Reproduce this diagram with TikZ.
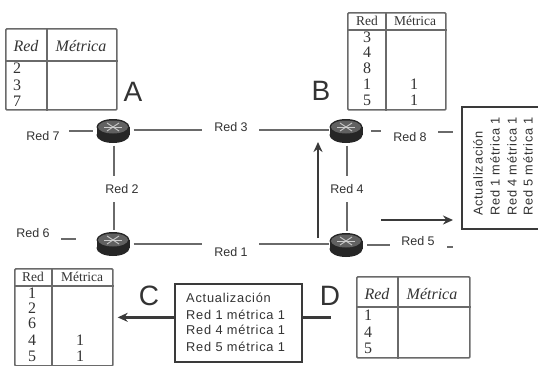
\documentclass[tikz,border=0pt]{standalone}
\usepackage{fontspec}
\setmainfont{Liberation Sans}
\newfontfamily\serifx{Liberation Serif}
\newfontfamily\sansspaced[LetterSpace=6]{Liberation Sans}
\usetikzlibrary{shapes.geometric,arrows.meta}
\definecolor{ln}{HTML}{6A6A6A}
\definecolor{dk}{HTML}{3A3A3A}
\definecolor{tx}{HTML}{333333}
\tikzset{
  x=1pt,y=-1pt,
  router/.style={ellipse,minimum width=33pt,minimum height=23pt,inner sep=0pt,fill=none,draw=none},
  link/.style={draw=ln,line width=2.3pt},
  arr/.style={draw=dk,line width=2.3pt,-{Stealth[length=10pt,width=9pt]}},
  lbl/.style={font=\fontsize{12.5}{14}\selectfont,text=tx,inner sep=0pt},
  big/.style={font=\fontsize{28}{30}\selectfont,text=tx,inner sep=0pt},
  tbl/.style={draw=ln,line width=1.7pt,rounded corners=1pt,inner sep=0pt},
  tline/.style={draw=ln,line width=1.7pt},
  cell/.style={font=\serifx\fontsize{16}{18}\selectfont,text=tx,inner sep=0pt},
  cellhd/.style={font=\serifx\fontsize{13.5}{15}\selectfont,text=tx,inner sep=0pt},
  hdi/.style={font=\serifx\itshape\fontsize{16}{18}\selectfont,text=tx,inner sep=0pt},
  upd/.style={draw=dk,line width=1.6pt,fill=white,inner sep=0pt},
  updtxt/.style={font=\sansspaced\fontsize{12.8}{14}\selectfont,text=tx,inner sep=0pt},
}
\newcommand{\routerart}[1]{%
  \fill[black!85] ([yshift=-4pt]#1.center) ellipse [x radius=16.5pt,y radius=8pt];
  \fill[black!85] ([xshift=-16.5pt,yshift=-4pt]#1.center) rectangle ([xshift=16.5pt,yshift=4pt]#1.center);
  \fill[black!85] ([yshift=4pt]#1.center) ellipse [x radius=16.5pt,y radius=8pt];
  \fill[black!62] ([yshift=4pt]#1.center) ellipse [x radius=15pt,y radius=6.5pt];
  \draw[white!80!black,line width=.9pt] ([xshift=-9pt,yshift=4pt]#1.center) -- ([xshift=9pt,yshift=4pt]#1.center);
  \draw[white!80!black,line width=.9pt] ([xshift=-6pt,yshift=8pt]#1.center) -- ([xshift=6pt,yshift=0pt]#1.center);
  \draw[white!80!black,line width=.9pt] ([xshift=-6pt,yshift=0pt]#1.center) -- ([xshift=6pt,yshift=8pt]#1.center);
}
\begin{document}
\begin{tikzpicture}
\useasboundingbox (0,0) rectangle (538,365);
\fill[white] (0,0) rectangle (538,365);
% routers
\node[router] (A) at (113,131) {};
\node[router] (B) at (346,131) {};
\node[router] (C) at (113,244) {};
\node[router] (D) at (346,245) {};
\routerart{A}\routerart{B}\routerart{C}\routerart{D}
% network labels
\node[lbl] (r3) at (231,127) {Red 3};
\node[lbl] (r1) at (231,252) {Red 1};
\node[lbl] (r7) at (43,136) {Red 7};
\node[lbl] (r2) at (122,189) {Red 2};
\node[lbl] (r6) at (33,233) {Red 6};
\node[lbl] (r4) at (347,189) {Red 4};
\node[lbl] (r8) at (410,137) {Red 8};
\node[lbl] (r5) at (418,241) {Red 5};
% free ends
\coordinate (a3) at (202,130); \coordinate (b3) at (259,130);
\coordinate (a1) at (202,244); \coordinate (b1) at (259,244);
\coordinate (a7) at (69,131);
\coordinate (a2) at (114,176); \coordinate (c2) at (114,202);
\coordinate (b4) at (347,176); \coordinate (d4) at (347,202);
\coordinate (c6a) at (61,239); \coordinate (c6b) at (76,239);
\coordinate (b8a) at (371,131); \coordinate (b8b) at (381,131);
\coordinate (b8c) at (438,132); \coordinate (b8d) at (453,132);
\coordinate (d5a) at (367,245); \coordinate (d5b) at (390,245);
\coordinate (d5c) at (447,247); \coordinate (d5d) at (453,247);
% links
\draw[link,shorten <=4pt] (A.east |- a3) -- (a3);
\draw[link] (b3) -- (B.west |- b3);
\draw[link,shorten <=4pt] (C.east |- a1) -- (a1);
\draw[link] (b1) -- (D.west |- b1);
\draw[link,shorten >=3pt] (a7) -- (A.west |- a7);
\draw[link,shorten <=3pt] (A.south -| a2) -- (a2);
\draw[link,shorten >=2pt] (c2) -- (C.north -| c2);
\draw[link,shorten <=3pt] (B.south -| b4) -- (b4);
\draw[link,shorten >=2pt] (d4) -- (D.north -| d4);
\draw[link] (c6a) -- (c6b);
\draw[link] (b8a) -- (b8b);
\draw[link] (b8c) -- (b8d);
\draw[link] (d5a) -- (d5b);
\draw[link,line width=2.6pt] (d5c) -- (d5d);
% letters
\node[big] (la) at (133,92) {A};
\node[big] (lb) at (321,91) {B};
\node[big] (lc) at (149,296) {C};
\node[big] (ld) at (330,296) {D};
% table A
\node[tbl,anchor=north west,minimum width=111pt,minimum height=81pt] (tA) at (5,28) {};
\coordinate (tA1) at (47,28);
\draw[tline] (tA.north -| tA1) -- (tA.south -| tA1);
\draw[tline] ([yshift=-33pt]tA.north west) -- ([yshift=-33pt]tA.north east);
\node[hdi] (tAh1) at (26,46) {Red};
\node[hdi] (tAh2) at (81,46) {Métrica};
\node[cell] (tAa) at (17,68) {2};
\node[cell] (tAb) at (17,85) {3};
\node[cell] (tAc) at (17,101) {7};
% table B
\node[tbl,anchor=north west,minimum width=98pt,minimum height=97pt] (tB) at (347,12) {};
\coordinate (tB1) at (386,12);
\draw[tline] (tB.north -| tB1) -- (tB.south -| tB1);
\draw[tline] ([yshift=-18pt]tB.north west) -- ([yshift=-18pt]tB.north east);
\node[cellhd] (tBh1) at (367,21) {Red};
\node[cellhd] (tBh2) at (415,21) {Métrica};
\node[cell] (tBa) at (367,37) {3};
\node[cell] (tBb) at (367,52) {4};
\node[cell] (tBc) at (367,68) {8};
\node[cell] (tBd) at (367,84) {1};
\node[cell] (tBe) at (367,100) {5};
\node[cell] (tBf) at (414,84) {1};
\node[cell] (tBg) at (414,100) {1};
% table C
\node[tbl,anchor=north west,minimum width=98pt,minimum height=97pt] (tC) at (14,268) {};
\coordinate (tC1) at (52,268);
\draw[tline] (tC.north -| tC1) -- (tC.south -| tC1);
\draw[tline] ([yshift=-18pt]tC.north west) -- ([yshift=-18pt]tC.north east);
\node[cellhd] (tCh1) at (33,277) {Red};
\node[cellhd] (tCh2) at (82,277) {Métrica};
\node[cell] (tCa) at (32,293) {1};
\node[cell] (tCb) at (32,308) {2};
\node[cell] (tCc) at (32,323) {6};
\node[cell] (tCd) at (32,340) {4};
\node[cell] (tCe) at (32,356) {5};
\node[cell] (tCf) at (80,340) {1};
\node[cell] (tCg) at (80,356) {1};
% table D
\node[tbl,anchor=north west,minimum width=113pt,minimum height=81pt] (tD) at (356,276) {};
\coordinate (tD1) at (398,276);
\draw[tline] (tD.north -| tD1) -- (tD.south -| tD1);
\draw[tline] ([yshift=-31pt]tD.north west) -- ([yshift=-31pt]tD.north east);
\node[hdi] (tDh1) at (377,294) {Red};
\node[hdi] (tDh2) at (432,294) {Métrica};
\node[cell] (tDa) at (368,315) {1};
\node[cell] (tDb) at (368,332) {4};
\node[cell] (tDc) at (368,348) {5};
% update box bottom
\node[upd,anchor=north west,minimum width=127pt,minimum height=78pt] (uC) at (174,283) {};
\node[updtxt,anchor=west] (uC1) at (186,298) {Actualización};
\node[updtxt,anchor=west] (uC2) at (186,315) {Red 1 métrica 1};
\node[updtxt,anchor=west] (uC3) at (186,330) {Red 4 métrica 1};
\node[updtxt,anchor=west] (uC4) at (186,347) {Red 5 métrica 1};
% update box right
\node[upd,anchor=north west,minimum width=78pt,minimum height=122pt] (uR) at (461,106) {};
\node[updtxt,rotate=90,anchor=west] (uR1) at (478,216) {Actualización};
\node[updtxt,rotate=90,anchor=west] (uR2) at (495,216) {Red 1 métrica 1};
\node[updtxt,rotate=90,anchor=west] (uR3) at (512,216) {Red 4 métrica 1};
\node[updtxt,rotate=90,anchor=west] (uR4) at (528,216) {Red 5 métrica 1};
% arrows
\coordinate (v1) at (318,238); \coordinate (v2) at (318,142);
\draw[arr] (v1) -- (v2);
\coordinate (h1) at (381,220);
\draw[arr,shorten >=8pt] (h1) -- (uR.west |- h1);
\draw[arr,shorten >=4pt] (uC.west |- tC.east) -- (tC.east);
\draw[draw=dk,line width=2.3pt,shorten >=25pt] (uC.east |- tD.west) -- (tD.west);
\end{tikzpicture}
\end{document}
